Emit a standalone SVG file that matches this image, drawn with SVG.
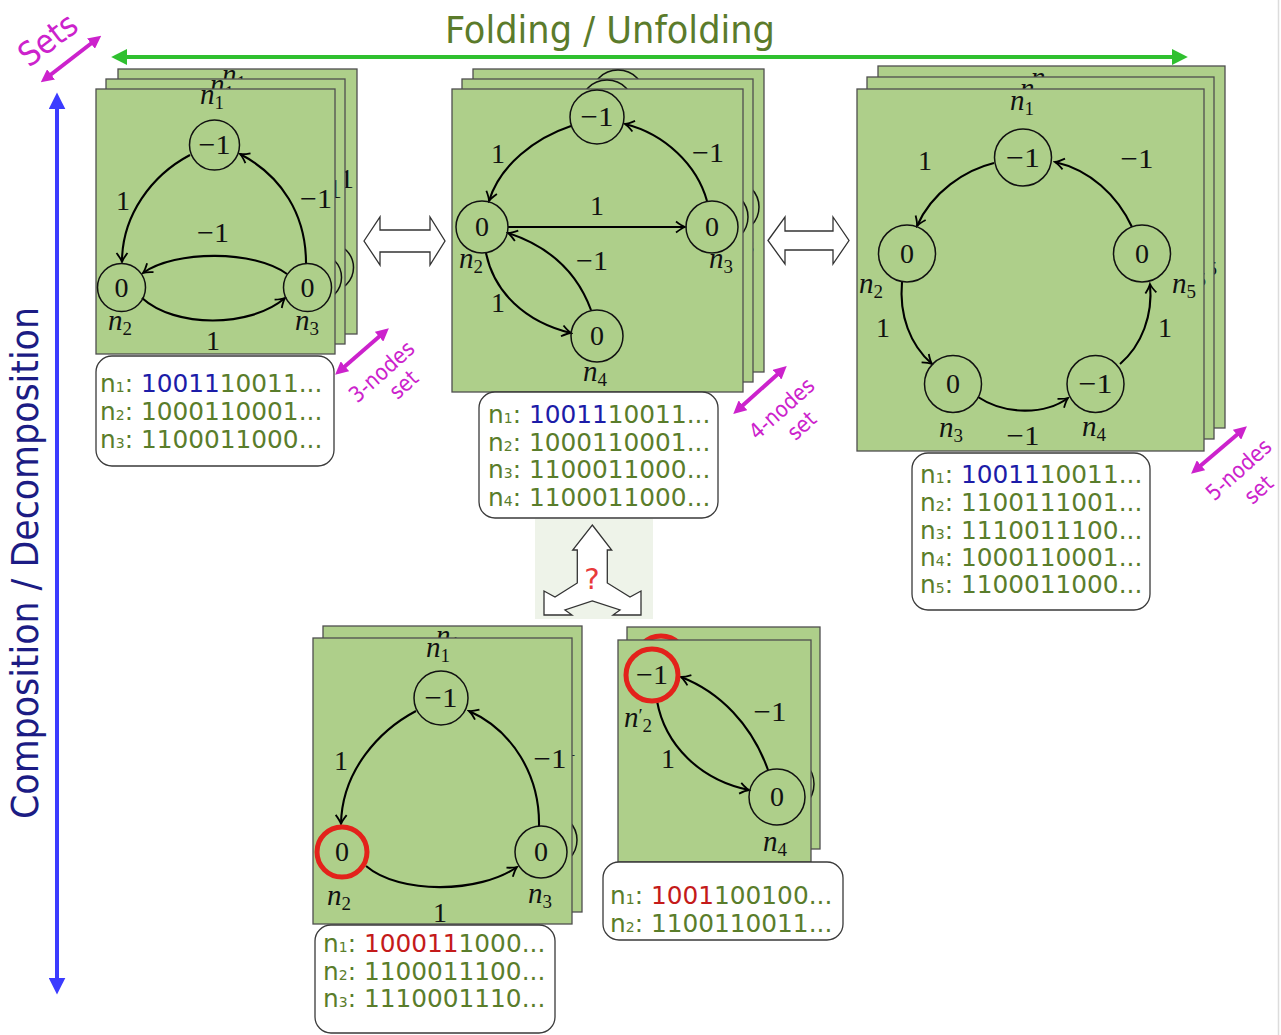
<svg xmlns="http://www.w3.org/2000/svg" xmlns:xlink="http://www.w3.org/1999/xlink" width="1281" height="1035" viewBox="0 0 1281 1035">
<style>
.card{fill:#aecf8a;stroke:#4f4f4f;stroke-width:1.3}
.box{fill:#fff;stroke:#3a3a3a;stroke-width:1.3}
.edge{fill:none;stroke:#000;stroke-width:2.1;marker-end:url(#ah)}
.node circle{fill:none;stroke:#111;stroke-width:1.5}
.node circle.red{stroke:#e3221b;stroke-width:5}
.val,.lbl{font-family:"Liberation Serif","Times New Roman",serif;font-size:28px;text-anchor:middle;fill:#111}
.nl{font-family:"Liberation Serif","Times New Roman",serif;font-size:29px;text-anchor:middle;fill:#111}
.it{font-style:italic}
.sb{font-size:19px}
.seq{font-family:"DejaVu Sans","Verdana",sans-serif;font-size:24.8px;fill:#5a7d2b}
.sub{font-size:14px}
.hb{fill:#1c1ca8}
.hr{fill:#c41a1a}
.mag{font-family:"DejaVu Sans Condensed","DejaVu Sans",sans-serif;font-stretch:condensed;fill:#cc22cc;font-size:22px;text-anchor:middle}
.magl{stroke:#cc22cc;stroke-width:4;marker-start:url(#mh);marker-end:url(#mh)}
.hollow{fill:#fff;stroke:#333;stroke-width:1.3}
</style>
<defs>
<marker id="ah" viewBox="-11 -7 13 14" refX="0" refY="0" markerWidth="13" markerHeight="14" markerUnits="userSpaceOnUse" orient="auto">
<path d="M-9,-5.5 Q-3.5,-1.2 0,0 Q-3.5,1.2 -9,5.5" fill="none" stroke="#000" stroke-width="1.8"/>
</marker>
<marker id="mh" viewBox="0 0 10 10" refX="2" refY="5" markerWidth="13" markerHeight="13" markerUnits="userSpaceOnUse" orient="auto-start-reverse">
<path d="M0,0 L10,5 L0,10 Z" fill="#cc22cc"/>
</marker>
<marker id="gh" viewBox="0 0 10 10" refX="2" refY="5" markerWidth="16" markerHeight="16" markerUnits="userSpaceOnUse" orient="auto-start-reverse">
<path d="M0,0 L10,5 L0,10 Z" fill="#2fc02f"/>
</marker>
<marker id="bh" viewBox="0 0 10 10" refX="2" refY="5" markerWidth="17" markerHeight="17" markerUnits="userSpaceOnUse" orient="auto-start-reverse">
<path d="M0,0 L10,5 L0,10 Z" fill="#3b3bff"/>
</marker>
<clipPath id="c1a"><rect x="118" y="69" width="239" height="265"/></clipPath>
<clipPath id="c1b"><rect x="106" y="79" width="239" height="265"/></clipPath>
<clipPath id="c2a"><rect x="473" y="69" width="291" height="303"/></clipPath>
<clipPath id="c2b"><rect x="462" y="79" width="291" height="303"/></clipPath>
<clipPath id="c3a"><rect x="878" y="66" width="347" height="362"/></clipPath>
<clipPath id="c3b"><rect x="867" y="77" width="347" height="362"/></clipPath>
<clipPath id="c4b"><rect x="323" y="626" width="259" height="286"/></clipPath>
<clipPath id="c5b"><rect x="627" y="627" width="193" height="222"/></clipPath>
</defs>

<rect x="0" y="0" width="1281" height="1035" fill="#fff"/>
<line x1="1278.5" y1="0" x2="1278.5" y2="1035" stroke="#dcdcdc" stroke-width="1.5"/>

<!-- axes -->
<g id="axes">
<line x1="124" y1="57" x2="1175" y2="57" stroke="#2fc02f" stroke-width="4" marker-start="url(#gh)" marker-end="url(#gh)"/>
<text x="610" y="43" font-family="DejaVu Sans Condensed, DejaVu Sans, sans-serif" font-stretch="condensed" font-size="37" fill="#5b7b2b" text-anchor="middle" textLength="330" lengthAdjust="spacingAndGlyphs">Folding / Unfolding</text>
<line x1="57" y1="106" x2="57" y2="981" stroke="#3b3bff" stroke-width="4" marker-start="url(#bh)" marker-end="url(#bh)"/>
<text transform="translate(38,563) rotate(-90)" font-family="DejaVu Sans Condensed, DejaVu Sans, sans-serif" font-stretch="condensed" font-size="37" fill="#1c1c84" text-anchor="middle" textLength="512" lengthAdjust="spacingAndGlyphs">Composition / Decomposition</text>
<line class="magl" x1="49" y1="76" x2="93" y2="42"/>
<text transform="translate(48,40) rotate(-37)" class="mag" style="font-size:33px" y="11">Sets</text>
</g>

<!-- Panel 1: 3-node set -->
<g id="panel1">
<rect class="card" x="118" y="69" width="239" height="265"/>
<g clip-path="url(#c1a)"><use xlink:href="#p1-graph" href="#p1-graph" transform="translate(22,-20)"/></g>
<rect class="card" x="106" y="79" width="239" height="265"/>
<g clip-path="url(#c1b)"><use xlink:href="#p1-graph" href="#p1-graph" transform="translate(10,-10)"/></g>
<rect class="card" x="96" y="89" width="239" height="265"/>
<g id="p1-graph">
<g id="p1-edges">
<path class="edge" d="M190,155 C152,175 122,215 122,262"/>
<path class="edge" d="M306,263 C306,215 282,176 240,154"/>
<path class="edge" d="M287,274 C255,250 175,250 143,273"/>
<path class="edge" d="M142,298 C175,328 250,328 285,298"/>
<text class="lbl" x="123" y="210">1</text>
<text class="lbl" x="316" y="208" textLength="32" lengthAdjust="spacingAndGlyphs">−1</text>
<text class="lbl" x="213" y="242" textLength="32" lengthAdjust="spacingAndGlyphs">−1</text>
<text class="lbl" x="213" y="350">1</text>
</g>
<g id="p1-n1" class="node"><circle cx="214.5" cy="145" r="25"/><text class="val" x="214.5" y="154" textLength="32" lengthAdjust="spacingAndGlyphs">−1</text><text class="nl" x="212" y="104"><tspan class="it">n</tspan><tspan class="sb" dy="5">1</tspan></text></g>
<g id="p1-n2" class="node"><circle cx="121.5" cy="287.5" r="24"/><text class="val" x="121.5" y="297">0</text><text class="nl" x="120" y="330"><tspan class="it">n</tspan><tspan class="sb" dy="5">2</tspan></text></g>
<g id="p1-n3" class="node"><circle cx="307.5" cy="287.5" r="24"/><text class="val" x="307.5" y="297">0</text><text class="nl" x="307" y="330"><tspan class="it">n</tspan><tspan class="sb" dy="5">3</tspan></text></g>
</g>
<g id="p1-seq">
<rect class="box" x="96" y="356" width="238" height="110" rx="16"/>
<text class="seq" x="100" y="392">n<tspan class="sub">1</tspan>: <tspan class="hb">10011</tspan>10011...</text>
<text class="seq" x="100" y="420">n<tspan class="sub">2</tspan>: 1000110001...</text>
<text class="seq" x="100" y="448">n<tspan class="sub">3</tspan>: 1100011000...</text>
</g>
<line class="magl" x1="343" y1="368" x2="381" y2="335"/>
<text class="mag" transform="translate(382,372) rotate(-42)" y="7">3-nodes</text>
<text class="mag" transform="translate(404,385) rotate(-42)" y="7">set</text>
</g>

<!-- Panel 2: 4-node set -->
<g id="panel2">
<rect class="card" x="473" y="69" width="291" height="303"/>
<g clip-path="url(#c2a)"><use xlink:href="#p2-graph" href="#p2-graph" transform="translate(21,-20)"/></g>
<rect class="card" x="462" y="79" width="291" height="303"/>
<g clip-path="url(#c2b)"><use xlink:href="#p2-graph" href="#p2-graph" transform="translate(10,-10)"/></g>
<rect class="card" x="452" y="89" width="291" height="303"/>
<g id="p2-graph">
<g id="p2-edges">
<path class="edge" d="M571,126 C535,138 500,165 489,201"/>
<path class="edge" d="M707,201 C697,165 665,134 625,124"/>
<path class="edge" d="M508,227 L685,227"/>
<path class="edge" d="M591,310 C577,272 548,246 508,233"/>
<path class="edge" d="M486,253 C494,292 525,322 571,333"/>
<text class="lbl" x="498" y="163">1</text>
<text class="lbl" x="708" y="162" textLength="32" lengthAdjust="spacingAndGlyphs">−1</text>
<text class="lbl" x="597" y="215">1</text>
<text class="lbl" x="592" y="270" textLength="32" lengthAdjust="spacingAndGlyphs">−1</text>
<text class="lbl" x="498" y="312">1</text>
</g>
<g id="p2-n1" class="node"><circle cx="597" cy="117" r="27"/><text class="val" x="597" y="126" textLength="33" lengthAdjust="spacingAndGlyphs">−1</text></g>
<g id="p2-n2" class="node"><circle cx="482" cy="227" r="26"/><text class="val" x="482" y="236">0</text><text class="nl" x="471" y="268"><tspan class="it">n</tspan><tspan class="sb" dy="5">2</tspan></text></g>
<g id="p2-n3" class="node"><circle cx="712" cy="227" r="26"/><text class="val" x="712" y="236">0</text><text class="nl" x="721" y="268"><tspan class="it">n</tspan><tspan class="sb" dy="5">3</tspan></text></g>
<g id="p2-n4" class="node"><circle cx="597" cy="336" r="26"/><text class="val" x="597" y="345">0</text><text class="nl" x="595" y="381"><tspan class="it">n</tspan><tspan class="sb" dy="5">4</tspan></text></g>
</g>
<g id="p2-seq">
<rect class="box" x="479" y="392" width="239" height="126" rx="16"/>
<text class="seq" x="488" y="423">n<tspan class="sub">1</tspan>: <tspan class="hb">10011</tspan>10011...</text>
<text class="seq" x="488" y="451">n<tspan class="sub">2</tspan>: 1000110001...</text>
<text class="seq" x="488" y="478">n<tspan class="sub">3</tspan>: 1100011000...</text>
<text class="seq" x="488" y="506">n<tspan class="sub">4</tspan>: 1100011000...</text>
</g>
<line class="magl" x1="741" y1="407" x2="779" y2="373"/>
<text class="mag" transform="translate(782,409) rotate(-42)" y="7">4-nodes</text>
<text class="mag" transform="translate(802,426) rotate(-42)" y="7">set</text>
</g>

<!-- Panel 3: 5-node set -->
<g id="panel3">
<rect class="card" x="878" y="66" width="347" height="362"/>
<g clip-path="url(#c3a)"><use xlink:href="#p3-graph" href="#p3-graph" transform="translate(21,-23)"/></g>
<rect class="card" x="867" y="77" width="347" height="362"/>
<g clip-path="url(#c3b)"><use xlink:href="#p3-graph" href="#p3-graph" transform="translate(10,-12)"/></g>
<rect class="card" x="857" y="89" width="347" height="362"/>
<g id="p3-graph">
<g id="p3-edges">
<path class="edge" d="M994,163 C965,170 932,192 917,226"/>
<path class="edge" d="M1132,227 C1117,195 1090,170 1055,162"/>
<path class="edge" d="M902,282 C899,315 910,345 932,364"/>
<path class="edge" d="M978,397 C1005,415 1045,415 1068,398"/>
<path class="edge" d="M1120,364 C1142,345 1153,315 1150,284"/>
<text class="lbl" x="925" y="170">1</text>
<text class="lbl" x="1137" y="168" textLength="33" lengthAdjust="spacingAndGlyphs">−1</text>
<text class="lbl" x="883" y="337">1</text>
<text class="lbl" x="1165" y="337">1</text>
<text class="lbl" x="1023" y="445" textLength="33" lengthAdjust="spacingAndGlyphs">−1</text>
</g>
<g id="p3-n1" class="node"><circle cx="1023" cy="157.5" r="28.5"/><text class="val" x="1023" y="167" textLength="34" lengthAdjust="spacingAndGlyphs">−1</text><text class="nl" x="1022" y="110"><tspan class="it">n</tspan><tspan class="sb" dy="5">1</tspan></text></g>
<g id="p3-n2" class="node"><circle cx="907" cy="253.5" r="28.5"/><text class="val" x="907" y="263">0</text><text class="nl" x="871" y="293"><tspan class="it">n</tspan><tspan class="sb" dy="5">2</tspan></text></g>
<g id="p3-n3" class="node"><circle cx="953" cy="384" r="28.5"/><text class="val" x="953" y="393">0</text><text class="nl" x="951" y="437"><tspan class="it">n</tspan><tspan class="sb" dy="5">3</tspan></text></g>
<g id="p3-n4" class="node"><circle cx="1095.5" cy="384" r="28.5"/><text class="val" x="1095.5" y="393" textLength="34" lengthAdjust="spacingAndGlyphs">−1</text><text class="nl" x="1094" y="436"><tspan class="it">n</tspan><tspan class="sb" dy="5">4</tspan></text></g>
<g id="p3-n5" class="node"><circle cx="1142" cy="253.5" r="28.5"/><text class="val" x="1142" y="263">0</text><text class="nl" x="1184" y="293"><tspan class="it">n</tspan><tspan class="sb" dy="5">5</tspan></text></g>
</g>
<g id="p3-seq">
<rect class="box" x="912" y="453" width="238" height="157" rx="16"/>
<text class="seq" x="920" y="483">n<tspan class="sub">1</tspan>: <tspan class="hb">10011</tspan>10011...</text>
<text class="seq" x="920" y="511">n<tspan class="sub">2</tspan>: 1100111001...</text>
<text class="seq" x="920" y="539">n<tspan class="sub">3</tspan>: 1110011100...</text>
<text class="seq" x="920" y="566">n<tspan class="sub">4</tspan>: 1000110001...</text>
<text class="seq" x="920" y="593">n<tspan class="sub">5</tspan>: 1100011000...</text>
</g>
<line class="magl" x1="1199" y1="467" x2="1239" y2="433"/>
<text class="mag" transform="translate(1239,470) rotate(-42)" y="7">5-nodes</text>
<text class="mag" transform="translate(1259,490) rotate(-42)" y="7">set</text>
</g>

<!-- hollow double arrows and split arrow -->
<g id="connectors">
<polygon class="hollow" points="364,241 380,217 380,230 430,230 430,217 445,241 430,265 430,252 380,252 380,265"/>
<polygon class="hollow" points="768,240.5 785,217 785,231 833,231 833,217 849,240.5 833,264 833,250 785,250 785,264"/>
<rect x="535" y="519" width="118" height="100" fill="#eef3e9"/>
<polygon class="hollow" points="592.3,525 611.7,550 607.3,550 607.3,583 630,597 641,591 641,615 613,615 620,610 592.3,601 565,610 572,615 544,615 544,591 555,597 577.3,583 577.3,550 572.7,550"/>
<text x="592" y="589" font-family="DejaVu Sans, sans-serif" font-size="29" fill="#e83a3a" text-anchor="middle">?</text>
</g>

<!-- Panel 4: bottom left -->
<g id="panel4">
<rect class="card" x="323" y="626" width="259" height="286"/>
<g clip-path="url(#c4b)"><use xlink:href="#p4-graph" href="#p4-graph" transform="translate(10,-12)"/></g>
<rect class="card" x="313" y="638" width="259" height="286"/>
<g id="p4-graph">
<g id="p4-edges">
<path class="edge" d="M416,711 C380,730 342,770 341,824"/>
<path class="edge" d="M539,826 C540,775 512,730 469,711"/>
<path class="edge" d="M366,866 C400,895 480,893 517,867"/>
<text class="lbl" x="341" y="770">1</text>
<text class="lbl" x="550" y="768" textLength="33" lengthAdjust="spacingAndGlyphs">−1</text>
<text class="lbl" x="440" y="922">1</text>
</g>
<g id="p4-n1" class="node"><circle cx="441" cy="698" r="27"/><text class="val" x="441" y="707" textLength="33" lengthAdjust="spacingAndGlyphs">−1</text><text class="nl" x="438" y="657"><tspan class="it">n</tspan><tspan class="sb" dy="5">1</tspan></text></g>
<g id="p4-n2" class="node"><circle class="red" cx="342" cy="852" r="25"/><text class="val" x="342" y="861">0</text><text class="nl" x="339" y="905"><tspan class="it">n</tspan><tspan class="sb" dy="5">2</tspan></text></g>
<g id="p4-n3" class="node"><circle cx="541" cy="852" r="26"/><text class="val" x="541" y="861">0</text><text class="nl" x="540" y="903"><tspan class="it">n</tspan><tspan class="sb" dy="5">3</tspan></text></g>
</g>
<g id="p4-seq">
<rect class="box" x="315" y="925" width="240" height="108" rx="16"/>
<text class="seq" x="323" y="952">n<tspan class="sub">1</tspan>: <tspan class="hr">100011</tspan>1000...</text>
<text class="seq" x="323" y="980">n<tspan class="sub">2</tspan>: 1100011100...</text>
<text class="seq" x="323" y="1007">n<tspan class="sub">3</tspan>: 1110001110...</text>
</g>
</g>

<!-- Panel 5: bottom right -->
<g id="panel5">
<rect class="card" x="627" y="627" width="193" height="222"/>
<g clip-path="url(#c5b)"><use xlink:href="#p5-graph" href="#p5-graph" transform="translate(9,-13)"/></g>
<rect class="card" x="618" y="640" width="193" height="222"/>
<g id="p5-graph">
<g id="p5-edges">
<path class="edge" d="M768,770 C752,725 720,692 681,677"/>
<path class="edge" d="M657,701 C665,745 700,780 749,790"/>
<text class="lbl" x="770" y="721" textLength="33" lengthAdjust="spacingAndGlyphs">−1</text>
<text class="lbl" x="668" y="768">1</text>
</g>
<g id="p5-n2" class="node"><circle class="red" cx="652" cy="675" r="26"/><text class="val" x="652" y="684" textLength="32" lengthAdjust="spacingAndGlyphs">−1</text><text class="nl" x="638" y="727"><tspan class="it">n</tspan><tspan class="sb" dy="-5">′</tspan><tspan class="sb" dy="10">2</tspan></text></g>
<g id="p5-n4" class="node"><circle cx="777" cy="797" r="28"/><text class="val" x="777" y="806">0</text><text class="nl" x="775" y="851"><tspan class="it">n</tspan><tspan class="sb" dy="5">4</tspan></text></g>
</g>
<g id="p5-seq">
<rect class="box" x="603" y="862" width="240" height="78" rx="16"/>
<text class="seq" x="610" y="904">n<tspan class="sub">1</tspan>: <tspan class="hr">1001</tspan>100100...</text>
<text class="seq" x="610" y="932">n<tspan class="sub">2</tspan>: 1100110011...</text>
</g>
</g>
</svg>
